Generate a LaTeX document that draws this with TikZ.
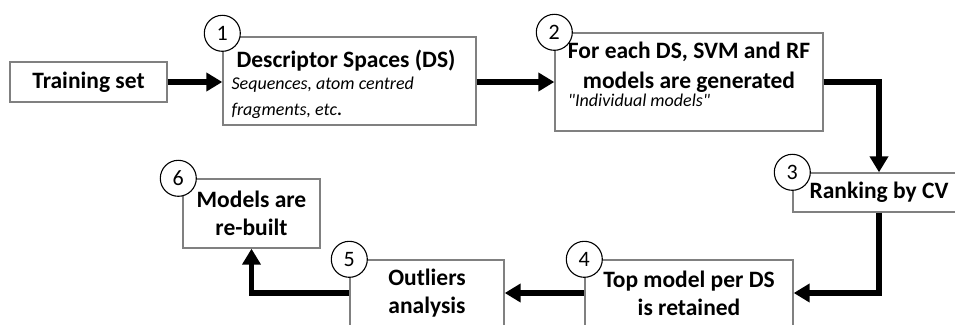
\documentclass[tikz,border=0pt]{standalone}
\usepackage{calc}
\usepackage{fontspec}
\setmainfont{Carlito}
\newfontfamily\notefont{Carlito}[Ligatures=TeXOff]
\usetikzlibrary{arrows.meta,positioning}
\definecolor{boxgray}{RGB}{128,128,128}
\newcommand{\note}[1]{{\notefont\fontsize{18}{26}\selectfont\mdseries\itshape #1}}

\begin{document}
\begin{tikzpicture}[x=1pt, y=-1pt]
\tikzstyle{process} = [rectangle, draw=boxgray, line width=1.4pt, fill=white, inner sep=0pt, align=center, font=\fontsize{23.5}{28}\selectfont\bfseries]
\tikzstyle{num} = [circle, draw=black, line width=1.1pt, fill=white, minimum size=36pt, inner sep=0pt, font=\fontsize{22}{26}\selectfont]
\tikzstyle{arrow} = [line width=5.5pt, -{Triangle[length=16pt,width=18pt]}]

\path [use as bounding box, clip] (0,0) rectangle (955,324);

% top row
\node (TrainingSet) [process, minimum width=157pt, minimum height=40pt] at (88.5,82) {Training set};
\node (DescSpaces) [process, align=left, minimum width=253pt, minimum height=88pt] at (349.5,81)
  {\rule{0pt}{24pt}\hspace{5pt}Descriptor Spaces (DS)\hspace{12pt}\null\\[-6pt]
   \note{Sequences, atom centred}\\[-2pt]
   \note{fragments, etc\textup{\bfseries .}}};
\node (Models) [process, minimum width=268pt, minimum height=98pt] at (689,82)
  {For each DS, SVM and RF\\[2pt]
   models are generated\\[-10pt]
   \makebox[\widthof{For each DS, SVM and RF}][l]{\note{"Individual models"}}\rule[-16pt]{0pt}{16pt}};

% right side and bottom row
\node (Ranking) [process, minimum width=172pt, minimum height=39pt] at (879,192.5) {Ranking by CV};
\node (TopModel) [process, minimum width=208pt, minimum height=66pt] at (689,293) {Top model per DS\\ is retained};
\node (Outliers) [process, minimum width=154pt, minimum height=66pt] at (427,293) {Outliers\\ analysis};
\node (Rebuilt) [process, minimum width=137pt, minimum height=69pt] at (251.5,213.5) {Models are\\ re-built};

\draw [arrow] (TrainingSet.east) -- (TrainingSet.east -| DescSpaces.west);
\draw [arrow] (DescSpaces.east |- Models.west) -- (Models.west);
\draw [arrow] (Models.east) -| (Ranking.north);
\draw [arrow] (Ranking.south) |- (TopModel.east);
\draw [arrow] (TopModel.west) -- (Outliers.east);
\draw [arrow] (Outliers.west) -| (Rebuilt.south);

% step numbers
\node (Num1) [num] at ([yshift=3pt]DescSpaces.north west) {1};
\node (Num2) [num] at (Models.north west) {2};
\node (Num3) [num] at (Ranking.north west) {3};
\node (Num4) [num] at (TopModel.north west) {4};
\node (Num5) [num] at (Outliers.north west) {5};
\node (Num6) [num] at ([xshift=-4pt]Rebuilt.north west) {6};
\end{tikzpicture}
\end{document}
